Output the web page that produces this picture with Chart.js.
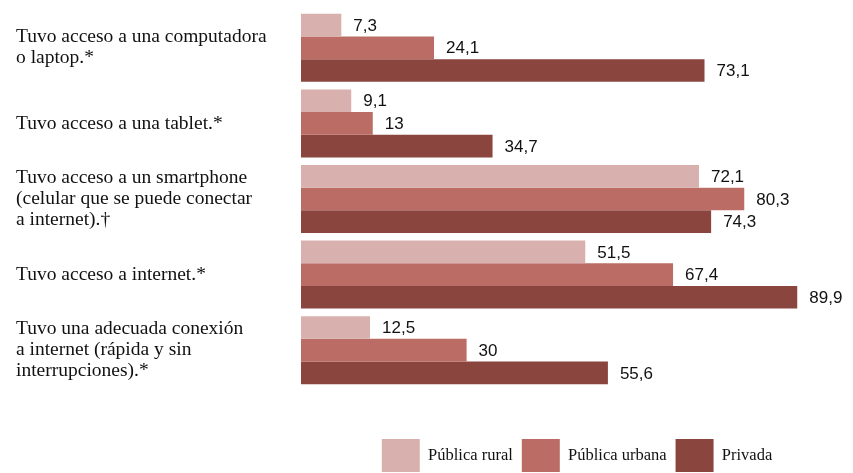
<!DOCTYPE html>
<html>
<head>
<meta charset="utf-8">
<script src="https://cdn.jsdelivr.net/npm/chart.js@4/dist/chart.umd.min.js"></script>
<style>
  html, body { margin: 0; padding: 0; background: #fff; }
  #wrap { width: 853px; height: 473px; }
</style>
</head>
<body>
<div id="wrap"><canvas id="chart"></canvas></div>
<script>
const categories = [
  ["Tuvo acceso a una computadora", "o laptop.*"],
  ["Tuvo acceso a una tablet.*"],
  ["Tuvo acceso a un smartphone", "(celular que se puede conectar", "a internet).†"],
  ["Tuvo acceso a internet.*"],
  ["Tuvo una adecuada conexión", "a internet (rápida y sin", "interrupciones).*"]
];
const publicaRural = [7.3, 9.1, 72.1, 51.5, 12.5];
const publicaUrbana = [24.1, 13, 80.3, 67.4, 30];
const privada = [73.1, 34.7, 74.3, 89.9, 55.6];

const serif = "'Liberation Serif', 'Times New Roman', serif";
const sans = "'Liberation Sans', Arial, sans-serif";

// value labels at the end of each bar, with decimal comma
const valueLabels = {
  id: "valueLabels",
  afterDatasetsDraw(chart) {
    const ctx = chart.ctx;
    ctx.save();
    ctx.font = "17px " + sans;
    ctx.fillStyle = "#111";
    ctx.textAlign = "left";
    ctx.textBaseline = "middle";
    chart.data.datasets.forEach((ds, i) => {
      chart.getDatasetMeta(i).data.forEach((bar, j) => {
        const txt = String(ds.data[j]).replace(".", ",");
        ctx.fillText(txt, bar.x + 12, bar.y + 1);
      });
    });
    ctx.restore();
  }
};

new Chart(document.getElementById("chart"), {
  type: "bar",
  data: {
    labels: categories,
    datasets: [
      { label: "Pública rural", data: publicaRural, backgroundColor: "#d8b0ae" },
      { label: "Pública urbana", data: publicaUrbana, backgroundColor: "#bb6c64" },
      { label: "Privada", data: privada, backgroundColor: "#8a453f" }
    ]
  },
  options: {
    indexAxis: "y",
    responsive: true,
    maintainAspectRatio: false,
    animation: false,
    categoryPercentage: 0.9,
    barPercentage: 1.0,
    layout: { padding: { left: 16, right: 0, top: 10, bottom: -9 } },
    scales: {
      x: {
        min: 0,
        max: 100,
        grid: { display: false },
        border: { display: false },
        ticks: { display: false },
        afterFit: (s) => { s.height = 42; }
      },
      y: {
        grid: { display: false },
        border: { display: false },
        ticks: {
          crossAlign: "far",
          color: "#111",
          font: { family: serif, size: 19.5, lineHeight: "21px" }
        },
        afterFit: (s) => {
          s.width = 285;
          s.paddingTop = 0;
          s.paddingBottom = 0;
        }
      }
    },
    plugins: {
      legend: {
        position: "bottom",
        fullSize: false,
        labels: {
          boxWidth: 38,
          boxHeight: 33,
          padding: 9,
          color: "#111",
          font: { family: serif, size: 16.5 }
        }
      },
      tooltip: { enabled: false }
    }
  },
  plugins: [valueLabels]
});
</script>
</body>
</html>
